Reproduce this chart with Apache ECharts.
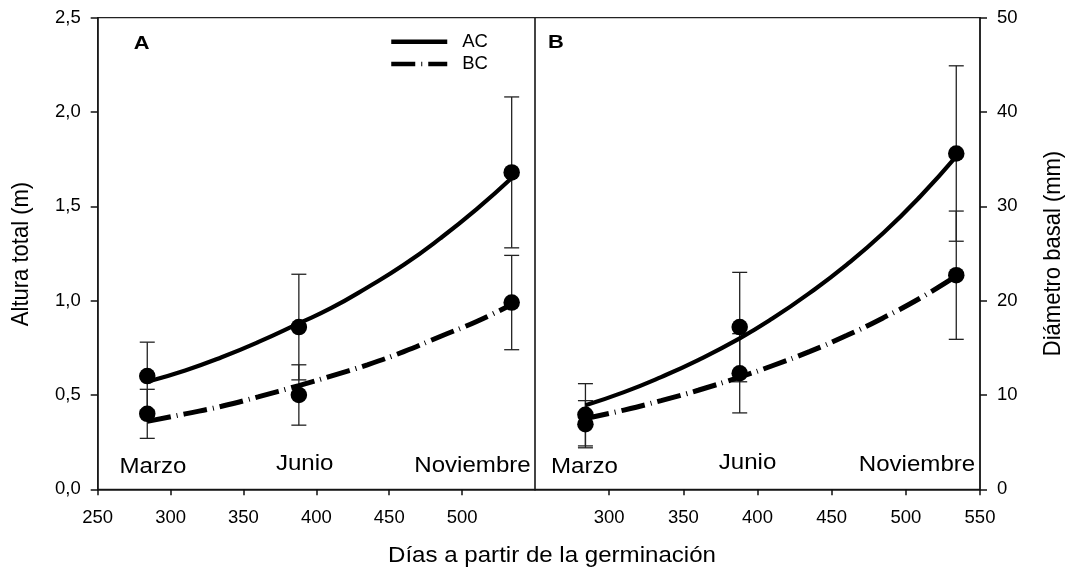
<!DOCTYPE html>
<html>
<head>
<meta charset="utf-8">
<script src="https://cdn.jsdelivr.net/npm/echarts@6/dist/echarts.min.js"></script>
<style>
html,body{margin:0;padding:0;background:#fff;}
#chart{width:1070px;height:572px;}
</style>
</head>
<body>
<div id="chart"></div>
<script>
// ---- data ----
const days = [284, 388, 534];
const monthLabels = ['Marzo', 'Junio', 'Noviembre'];

// Panel A: Altura total (m)
const acHeight = [0.60, 0.86, 1.68];
const acHeightErr = [0.18, 0.28, 0.40];
const bcHeight = [0.40, 0.50, 0.99];
const bcHeightErr = [0.13, 0.16, 0.25];

// Panel B: Diámetro basal (mm)
const acDiam = [7.9, 17.2, 35.6];
const acDiamErr = [3.3, 5.8, 9.3];
const bcDiam = [6.9, 12.3, 22.7];
const bcDiamErr = [2.5, 4.2, 6.8];

// Fitted curves
const fitDays = [284, 310, 335, 360, 388, 410, 435, 460, 485, 510, 534];
const acHeightFit = [0.57, 0.63, 0.70, 0.78, 0.88, 0.96, 1.07, 1.19, 1.33, 1.485, 1.65];
const bcHeightFit = [0.36, 0.40, 0.44, 0.49, 0.55, 0.60, 0.66, 0.73, 0.81, 0.89, 0.98];
const acDiamFit = [8.9, 10.3, 11.9, 13.7, 16.0, 18.1, 20.8, 23.8, 27.2, 31.1, 35.3];
const bcDiamFit = [7.5, 8.4, 9.4, 10.5, 11.9, 13.1, 14.6, 16.3, 18.2, 20.3, 22.6];

// Tick labels
const xTicksA = [250, 300, 350, 400, 450, 500];
const xTicksB = [300, 350, 400, 450, 500, 550];
const yTicksA = ['0,0', '0,5', '1,0', '1,5', '2,0', '2,5'];
const yTicksB = ['0', '10', '20', '30', '40', '50'];

// ---- chart ----
const FONT = 'Liberation Sans';
const chart = echarts.init(document.getElementById('chart'), null, {renderer: 'canvas'});

function pts(xs, ys) { return xs.map((x, i) => [x, ys[i]]); }
function errs(xs, ys, es) { return xs.map((x, i) => [x, ys[i] - es[i], ys[i] + es[i]]); }

function errRender(params, api) {
  const x = api.value(0), lo = api.value(1), hi = api.value(2);
  const pLo = api.coord([x, lo]), pHi = api.coord([x, hi]);
  const w = 7.5;
  const style = {stroke: '#222', lineWidth: 1.3, fill: null};
  return {type: 'group', children: [
    {type: 'line', shape: {x1: pHi[0], y1: pHi[1], x2: pLo[0], y2: pLo[1]}, style: style},
    {type: 'line', shape: {x1: pHi[0] - w, y1: pHi[1], x2: pHi[0] + w, y2: pHi[1]}, style: style},
    {type: 'line', shape: {x1: pLo[0] - w, y1: pLo[1], x2: pLo[0] + w, y2: pLo[1]}, style: style}
  ]};
}

const axisLineStyle = {color: '#111', width: 1.5};
const labelStyle = {fontFamily: FONT, fontSize: 18.5, color: '#000'};
const solidLine = {color: '#000', width: 4.2, cap: 'butt'};
const dashLine = {color: '#000', width: 5, type: [24, 6, 1, 6], cap: 'butt'};

function panelSeries(idx, acY, acE, bcY, bcE, acFit, bcFit) {
  return [
    {type: 'custom', xAxisIndex: idx, yAxisIndex: idx, renderItem: errRender,
     data: errs(days, acY, acE), encode: {x: 0, y: [1, 2]}, z: 2, silent: true},
    {type: 'custom', xAxisIndex: idx, yAxisIndex: idx, renderItem: errRender,
     data: errs(days, bcY, bcE), encode: {x: 0, y: [1, 2]}, z: 2, silent: true},
    {name: 'AC', type: 'line', xAxisIndex: idx, yAxisIndex: idx, data: pts(fitDays, acFit),
     symbol: 'none', showSymbol: false, smooth: 0.5,
     lineStyle: solidLine, itemStyle: {color: '#000'}, z: 3},
    {name: 'BC', type: 'line', xAxisIndex: idx, yAxisIndex: idx, data: pts(fitDays, bcFit),
     symbol: 'none', showSymbol: false, smooth: 0.5,
     lineStyle: dashLine, itemStyle: {color: '#000'}, z: 3},
    {type: 'scatter', xAxisIndex: idx, yAxisIndex: idx, data: pts(days, acY),
     symbolSize: 16.5, itemStyle: {color: '#000', opacity: 1}, z: 5},
    {type: 'scatter', xAxisIndex: idx, yAxisIndex: idx, data: pts(days, bcY),
     symbolSize: 16.5, itemStyle: {color: '#000', opacity: 1}, z: 5}
  ];
}

function txt(text, x, y, size, opts, bold) {
  return Object.assign({
    type: 'text', x: x, y: y, silent: true,
    style: {text: text, fontFamily: FONT, fontSize: size, fontWeight: bold ? 'bold' : 'normal',
            fill: '#000', align: 'center', verticalAlign: 'middle'}
  }, opts || {});
}

const option = {
  animation: false,
  backgroundColor: '#fff',
  grid: [
    {left: 97.7, top: 17.7, width: 437.3, height: 471.6, show: true, borderColor: '#222', borderWidth: 1.2},
    {left: 535, top: 17.7, width: 445, height: 471.6, show: true, borderColor: '#222', borderWidth: 1.2}
  ],
  xAxis: [
    {type: 'value', gridIndex: 0, min: 250, max: 550, interval: 50,
     axisLine: {show: true, onZero: false, lineStyle: axisLineStyle},
     axisTick: {show: true, inside: false, length: 6, customValues: xTicksA, lineStyle: axisLineStyle},
     axisLabel: Object.assign({margin: 19, customValues: xTicksA}, labelStyle),
     splitLine: {show: false}},
    {type: 'value', gridIndex: 1, min: 250, max: 550, interval: 50,
     axisLine: {show: true, onZero: false, lineStyle: axisLineStyle},
     axisTick: {show: true, inside: false, length: 6, customValues: xTicksB, lineStyle: axisLineStyle},
     axisLabel: Object.assign({margin: 19, customValues: xTicksB}, labelStyle),
     splitLine: {show: false}}
  ],
  yAxis: [
    {type: 'value', gridIndex: 0, position: 'left', min: 0, max: 2.5, interval: 0.5,
     axisLine: {show: true, onZero: false, lineStyle: axisLineStyle},
     axisTick: {show: true, inside: false, length: 7, lineStyle: axisLineStyle},
     axisLabel: Object.assign({margin: 17, formatter: function (v) { return yTicksA[Math.round(v / 0.5)]; }}, labelStyle),
     splitLine: {show: false}},
    {type: 'value', gridIndex: 1, position: 'right', min: 0, max: 50, interval: 10,
     axisLine: {show: true, onZero: false, lineStyle: axisLineStyle},
     axisTick: {show: true, inside: false, length: 7, lineStyle: axisLineStyle},
     axisLabel: Object.assign({margin: 17, formatter: function (v) { return yTicksB[Math.round(v / 10)]; }}, labelStyle),
     splitLine: {show: false}}
  ],
  legend: {
    data: ['AC', 'BC'], orient: 'vertical', left: 389, top: 31.7, padding: 0,
    itemWidth: 56, itemHeight: 10, itemGap: 2.3, selectedMode: false,
    itemStyle: {opacity: 0},
    lineStyle: {width: 4.5},
    textStyle: {fontFamily: FONT, fontSize: 18.5, lineHeight: 20, color: '#000', padding: [0, 0, 0, 10]}
  },
  series: [].concat(
    panelSeries(0, acHeight, acHeightErr, bcHeight, bcHeightErr, acHeightFit, bcHeightFit),
    panelSeries(1, acDiam, acDiamErr, bcDiam, bcDiamErr, acDiamFit, bcDiamFit)
  ),
  graphic: [
    txt('A', 141.7, 43.8, 19, {scaleX: 1.15}, true),
    txt('B', 556, 42.3, 19, {scaleX: 1.15}, true),
    txt(monthLabels[0], 153, 467, 21.5, {scaleX: 1.12}),
    txt(monthLabels[1], 304.7, 464, 21.5, {scaleX: 1.12}),
    txt(monthLabels[2], 472.5, 466.5, 21.5, {scaleX: 1.12}),
    txt(monthLabels[0], 584.5, 467, 21.5, {scaleX: 1.12}),
    txt(monthLabels[1], 747.5, 463, 21.5, {scaleX: 1.12}),
    txt(monthLabels[2], 917, 465.5, 21.5, {scaleX: 1.12}),
    txt('Días a partir de la germinación', 552, 556, 21.5, {scaleX: 1.12}),
    txt('Altura total (m)', 21, 254, 22, {rotation: Math.PI / 2, scaleY: 1.12}),
    txt('Diámetro basal (mm)', 1053, 253.5, 22, {rotation: Math.PI / 2, scaleY: 1.12})
  ]
};
chart.setOption(option);
</script>
</body>
</html>
